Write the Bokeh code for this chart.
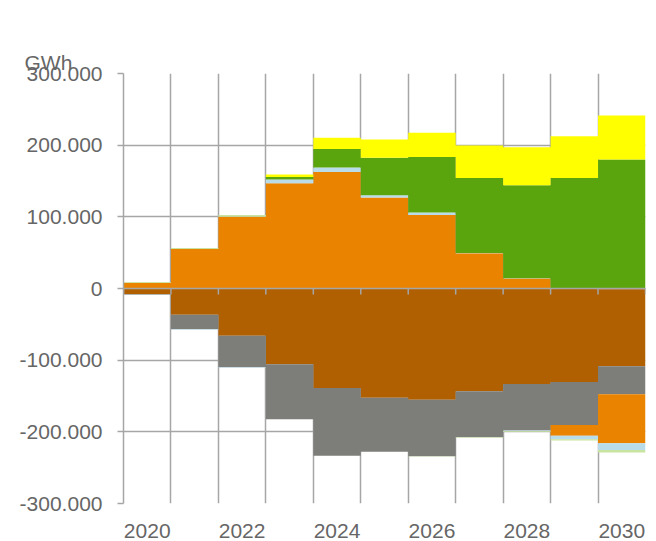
import numpy as np
from bokeh.plotting import figure
from bokeh.models import (Range1d, LinearAxis, FixedTicker, Grid, Span, Title)
from bokeh.embed import file_html
from bokeh.resources import INLINE

# ---------------- data (GWh) ----------------
years = [2020, 2021, 2022, 2023, 2024, 2025, 2026, 2027, 2028, 2029, 2030]

# positive stack, bottom -> top
orange_pos     = [8000, 55000, 100000, 147000, 162600, 126900, 102700, 49200, 13900, 0, 0]
lightblue_pos  = [0, 0, 0, 5000, 6400, 3200, 3300, 500, 300, 0, 0]
green_pos      = [0, 0, 0, 3500, 25700, 52400, 77500, 104600, 129900, 154300, 179900]
lightgreen_pos = [900, 1500, 2500, 0, 0, 0, 0, 0, 0, 0, 0]
yellow_pos     = [0, 0, 0, 3500, 15800, 25300, 34000, 45100, 53000, 58100, 61400]

# negative stack, top (zero) -> bottom
red_neg        = [0, 0, 0, 0, 0, 0, 0, 0, 0, -800, -1000]
brown_neg      = [-8000, -36800, -66100, -105600, -138700, -152600, -155400, -143200, -133400, -129800, -107400]
gray_neg       = [-800, -20000, -43700, -76700, -94800, -75300, -78500, -64200, -64600, -60000, -39000]
orange_neg     = [0, 0, 0, 0, 0, 0, 0, 0, 0, -14900, -68400]
lightblue_neg  = [-400, -700, -700, 0, 0, 0, 0, 0, -1000, -4700, -9700]
lightgreen_neg = [0, 0, 0, 0, 0, 0, -500, -700, -1000, -1900, -3300]

x_label_years = [2020, 2022, 2024, 2026, 2028, 2030]
x_labels = ["2020", "2022", "2024", "2026", "2028", "2030"]
y_ticks = [-300000, -200000, -100000, 0, 100000, 200000, 300000]
y_tick_labels = ["-300.000", "-200.000", "-100.000", "0", "100.000", "200.000", "300.000"]
unit_label = "GWh"

# ---------------- styles ----------------
C_ORANGE = "#E98300"
C_LBLUE = "#B9DCEB"
C_GREEN = "#5AA50E"
C_LGREEN = "#C8E4A0"
C_YELLOW = "#FFFF00"
C_RED = "#C8203C"
C_BROWN = "#B06000"
C_GRAY = "#7D7E7A"
AX = "#A6A6A6"
TXT = "#666666"
FONT = "Liberation Sans"
FS = "21px"

p = figure(width=650, height=541,
           x_range=Range1d(years[0] - 0.5, years[-1] + 0.5),
           y_range=Range1d(-300000, 300000),
           x_axis_location=None, y_axis_location=None,
           output_backend="svg", toolbar_location=None,
           min_border_left=123, min_border_right=5,
           min_border_top=73, min_border_bottom=38)
p.outline_line_color = None
p.background_fill_color = "white"
p.border_fill_color = "white"
for g in list(p.grid):
    g.visible = False

# unit label (outer panel) first, then a transparent spacer panel next to the plot area
p.add_layout(Title(text=unit_label, align="left", vertical_align="bottom", offset=-99,
                   standoff=0, text_font=FONT, text_font_size=FS,
                   text_font_style="normal", text_color=TXT), "above")
p.add_layout(Title(text=".", text_font_size="1px", standoff=44, text_alpha=0,
                   text_color="white"), "above")

# column edges
edges = [y - 0.5 for y in years] + [years[-1] + 0.5]

# grids
xg = Grid(dimension=0, ticker=FixedTicker(ticks=edges),
          grid_line_color=AX, grid_line_width=1.5)
yg = Grid(dimension=1, ticker=FixedTicker(ticks=y_ticks),
          grid_line_color=AX, grid_line_width=1.5)
p.add_layout(xg, "center")
p.add_layout(yg, "center")

# y axis
yaxis = LinearAxis(ticker=FixedTicker(ticks=y_ticks),
                   major_label_overrides={v: s for v, s in zip(y_ticks, y_tick_labels)})
yaxis.axis_line_color = AX
yaxis.axis_line_width = 1.5
yaxis.major_tick_line_color = AX
yaxis.major_tick_line_width = 1.5
yaxis.major_tick_out = 6
yaxis.major_tick_in = 0
yaxis.minor_tick_out = 0
yaxis.minor_tick_in = 0
yaxis.major_label_standoff = 15
yaxis.major_label_text_font = FONT
yaxis.major_label_text_font_size = FS
yaxis.major_label_text_color = TXT
p.add_layout(yaxis, "left")

# x axis (labels only, placed below the plot area)
xaxis = LinearAxis(ticker=FixedTicker(ticks=x_label_years),
                   major_label_overrides={v: s for v, s in zip(x_label_years, x_labels)})
xaxis.axis_line_color = None
xaxis.major_tick_line_color = None
xaxis.minor_tick_line_color = None
xaxis.major_tick_out = 0
xaxis.major_tick_in = 0
xaxis.minor_tick_out = 0
xaxis.minor_tick_in = 0
xaxis.major_label_standoff = 20
xaxis.major_label_text_font = FONT
xaxis.major_label_text_font_size = FS
xaxis.major_label_text_color = TXT
p.add_layout(xaxis, "below")


def stack_areas(series_list):
    base = np.zeros(len(years))
    for vals, color in series_list:
        v = np.array(vals, dtype=float)
        top = base + v
        y1 = list(base) + [base[-1]]
        y2 = list(top) + [top[-1]]
        p.varea_step(x=edges, y1=y1, y2=y2, step_mode="after",
                     fill_color=color, fill_alpha=1.0)
        base = top


stack_areas([(orange_pos, C_ORANGE), (lightblue_pos, C_LBLUE), (green_pos, C_GREEN),
             (lightgreen_pos, C_LGREEN), (yellow_pos, C_YELLOW)])
stack_areas([(red_neg, C_RED), (brown_neg, C_BROWN), (gray_neg, C_GRAY),
             (orange_neg, C_ORANGE), (lightblue_neg, C_LBLUE), (lightgreen_neg, C_LGREEN)])

# zero axis line with downward ticks at column edges
p.add_layout(Span(location=0, dimension="width", line_color=AX, line_width=1.5))
tick_len = 6 * (600000 / 430.0)
p.segment(x0=edges, x1=edges, y0=[0] * len(edges), y1=[-tick_len] * len(edges),
          line_color=AX, line_width=1.5)

open("out.html", "w").write(file_html(p, INLINE))
